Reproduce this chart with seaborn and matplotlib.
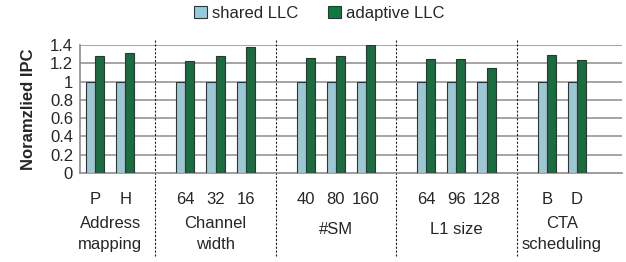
import numpy as np
import pandas as pd
import matplotlib
matplotlib.use("Agg")
import matplotlib.pyplot as plt
import matplotlib.transforms as mtransforms
import seaborn as sns

# data (blank slot between groups, like the Excel original)
slot_labels = ["P", "H", "", "64", "32", "16", "", "40", "80", "160", "",
               "64", "96", "128", "", "B", "D", ""]
shared_llc = [1, 1, None, 1, 1, 1, None, 1, 1, 1, None, 1, 1, 1, None, 1, 1, None]
adaptive_llc = [1.28, 1.31, None, 1.22, 1.28, 1.38, None, 1.26, 1.28, 1.40, None,
                1.25, 1.25, 1.15, None, 1.29, 1.24, None]
group_names = ["Address\nmapping", "Channel\nwidth", "#SM", "L1 size", "CTA\nscheduling"]
group_slots = [(0, 1), (3, 5), (7, 9), (11, 13), (15, 16)]
separators = [2, 6, 10, 14]

series_names = ["shared LLC", "adaptive LLC"]
colors = ["#93CDDD", "#0B7B3E"]

rows = []
for i in range(len(slot_labels)):
    for name, vals in zip(series_names, [shared_llc, adaptive_llc]):
        if vals[i] is not None:
            rows.append({"slot": i, "series": name, "value": vals[i]})
df = pd.DataFrame(rows)

sns.set_style("white")
plt.rcParams["font.family"] = ["Liberation Sans", "DejaVu Sans"]
FS = 12

fig = plt.figure(figsize=(6.26, 2.62), dpi=100)
ax = fig.add_axes([80 / 626, 89 / 262, 542 / 626, 128 / 262])

sns.barplot(data=df, x="slot", y="value", hue="series", order=list(range(len(slot_labels))),
            hue_order=series_names, palette=colors, width=0.6, gap=0,
            edgecolor="#333333", linewidth=0.8, ax=ax, legend=True, zorder=3)

ax.set_ylim(0, 1.4)
ax.set_xlim(-0.5, len(slot_labels) - 0.5)
yticks = np.arange(0, 1.41, 0.2)
ax.set_yticks(yticks)
ax.set_yticklabels(["0", "0.2", "0.4", "0.6", "0.8", "1", "1.2", "1.4"], fontsize=FS)
# gridlines
ax.hlines(yticks[1:], -0.5, len(slot_labels) - 0.5, colors="#969696", linewidth=1.2, zorder=1)

ax.set_xticks(range(len(slot_labels)))
ax.set_xticklabels(slot_labels, fontsize=FS)
ax.set_xticks(np.arange(-0.5, len(slot_labels), 1), minor=True)
ax.tick_params(axis="x", which="major", length=0, pad=14)
ax.tick_params(axis="x", which="minor", length=5, width=1, color="#8C8C8C", direction="out")
ax.tick_params(axis="y", length=3, width=1, color="#8C8C8C", direction="out", pad=2)

for side in ["top", "right"]:
    ax.spines[side].set_visible(False)
for side in ["left", "bottom"]:
    ax.spines[side].set_color("#8C8C8C")
    ax.spines[side].set_linewidth(1.2)

ax.set_xlabel("")
ax.set_ylabel("Noramzlied IPC", fontsize=FS, fontweight="bold", labelpad=10)

trans = mtransforms.blended_transform_factory(ax.transData, ax.transAxes)
for name, (a, b) in zip(group_names, group_slots):
    yy = -0.477 if "\n" in name else -0.44
    ax.text((a + b) / 2, yy, name, transform=trans, ha="center", va="center",
            fontsize=FS, linespacing=1.45)

for s in separators:
    ax.plot([s, s], [1.04, -0.65], transform=trans, color="#222222",
            linestyle=(0, (2, 1.5)), linewidth=0.8, clip_on=False)

ax.legend_.remove()
handles = [plt.Rectangle((0, 0), 1, 1, facecolor=c, edgecolor="#333333", linewidth=0.8)
           for c in colors]
fig.legend(handles, series_names, loc="center", bbox_to_anchor=(0.51, 0.95), ncol=2,
           frameon=False, fontsize=FS, handlelength=0.8, handleheight=0.8,
           handletextpad=0.3, columnspacing=1.8)

fig.savefig("out.png", dpi=100)
